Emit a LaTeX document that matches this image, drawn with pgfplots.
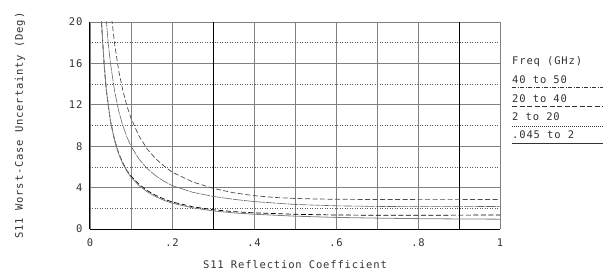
\documentclass[border=0pt]{standalone}
\usepackage{pgfplots}
\pgfplotsset{compat=1.18}
\usepackage{fontspec}
\newfontfamily\hpfont[LetterSpace=8]{DejaVu Sans Mono}

\pgfplotstableread{
x y
0.053 20.3
0.055 19.6
0.06 17.9
0.07 15.3
0.08 13.4
0.09 11.9
0.1 10.7
0.12 8.95
0.14 7.7
0.16 6.8
0.18 6.1
0.2 5.5
0.25 4.55
0.3 3.93
0.35 3.5
0.4 3.22
0.45 3.05
0.5 2.95
0.55 2.9
0.6 2.87
0.7 2.85
0.8 2.84
0.9 2.84
1.0 2.85
}\tA
\pgfplotstableread{
x y
0.039 20.5
0.04 20
0.045 17.75
0.05 16
0.06 13.3
0.07 11.4
0.08 10
0.09 8.9
0.1 8.0
0.12 6.72
0.14 5.82
0.16 5.15
0.18 4.62
0.2 4.2
0.25 3.55
0.3 3.15
0.35 2.87
0.4 2.65
0.5 2.37
0.6 2.24
0.7 2.18
0.8 2.16
0.9 2.16
1.0 2.18
}\tB
\pgfplotstableread{
x y
0.027 20.7
0.028 20
0.03 18.6
0.035 15.6
0.04 13.3
0.05 10.4
0.06 8.6
0.07 7.3
0.08 6.4
0.09 5.65
0.1 5.1
0.12 4.3
0.14 3.7
0.16 3.25
0.18 2.9
0.2 2.62
0.25 2.15
0.3 1.86
0.35 1.68
0.4 1.56
0.5 1.42
0.6 1.35
0.7 1.33
0.8 1.33
0.9 1.34
1.0 1.35
}\tC
\pgfplotstableread{
x y
0.027 20.9
0.028 20.2
0.03 18.8
0.035 15.7
0.04 13.4
0.05 10.4
0.06 8.55
0.07 7.25
0.08 6.3
0.09 5.6
0.1 5.0
0.12 4.18
0.14 3.58
0.16 3.13
0.18 2.78
0.2 2.5
0.25 2.05
0.3 1.75
0.35 1.56
0.4 1.43
0.5 1.24
0.6 1.12
0.7 1.05
0.8 1.0
0.9 0.97
1.0 0.95
}\tD

\begin{document}
\begin{tikzpicture}[font={\hpfont\fontsize{10.5bp}{12bp}\selectfont}, text=black!80]
\begin{axis}[
  scale only axis, width=410bp, height=207bp,
  xmin=0, xmax=1, ymin=0, ymax=20,
  axis x line*=bottom, axis y line*=left,
  axis line style={-, black, line width=1bp},
  major tick length=0pt, minor tick length=0pt,
  xtick={0,0.2,0.4,0.6,0.8,1}, xticklabels={0,.2,.4,.6,.8,1},
  minor xtick={0.1,0.3,0.5,0.7,0.9},
  ytick={0,4,8,12,16,20}, yticklabels={0,4,8,12,16,20},
  xmajorgrids, xminorgrids, ymajorgrids,
  major grid style={black!50, line width=0.7bp},
  minor grid style={black!50, line width=0.7bp},
  extra y ticks={2,6,10,14,18}, extra y tick labels={},
  extra y tick style={grid=major, major grid style={black!65, line width=0.7bp, dash pattern=on 1bp off 1.5bp}},
  extra x ticks={0.3,0.9}, extra x tick labels={},
  extra x tick style={grid=major, major grid style={black, line width=1bp}},
  xticklabel style={yshift=-6bp},
  yticklabel style={xshift=-4bp},
]
\addplot[black!70, line width=0.7bp, dash pattern=on 5bp off 2.5bp] table {\tA};
\addplot[black!60, line width=0.6bp, dash pattern=on 10bp off 1bp] table {\tB};
\addplot[black, line width=0.7bp, dash pattern=on 5bp off 2.5bp] table {\tC};
\addplot[black!50, line width=0.8bp] table {\tD};
\end{axis}
\node[rotate=90] at ([xshift=-70bp]current axis.west) {S11 Worst-Case Uncertainty (Deg)};
\node at ([yshift=-36bp]current axis.south) {S11 Reflection Coefficient};
\coordinate (L) at (current axis.north east);
\node[anchor=base west, inner sep=0] at ([shift={(12bp,-43bp)}]L) {Freq (GHz)};
\node[anchor=base west, inner sep=0] at ([shift={(12bp,-62bp)}]L) {40 to 50};
\node[anchor=base west, inner sep=0] at ([shift={(12bp,-80.3bp)}]L) {20 to 40};
\node[anchor=base west, inner sep=0] at ([shift={(12bp,-98.7bp)}]L) {2 to 20};
\node[anchor=base west, inner sep=0] at ([shift={(12bp,-116.3bp)}]L) {.045 to 2};
\draw[black!80, line width=0.7bp, dash pattern=on 4bp off 1.5bp on 1bp off 1.5bp] ([shift={(12bp,-65.7bp)}]L) -- ([shift={(103bp,-65.7bp)}]L);
\draw[black!80, line width=0.7bp, dash pattern=on 5bp off 2.5bp] ([shift={(12bp,-84.7bp)}]L) -- ([shift={(103bp,-84.7bp)}]L);
\draw[black!80, line width=0.7bp, dash pattern=on 1bp off 1bp] ([shift={(12bp,-104bp)}]L) -- ([shift={(103bp,-104bp)}]L);
\draw[black!80, line width=0.7bp] ([shift={(12bp,-121.3bp)}]L) -- ([shift={(103bp,-121.3bp)}]L);
\pgfresetboundingbox
\path[use as bounding box] ([shift={(-90bp,-43bp)}]current axis.south west) rectangle ([shift={(105bp,22bp)}]current axis.north east);
\end{tikzpicture}
\end{document}
